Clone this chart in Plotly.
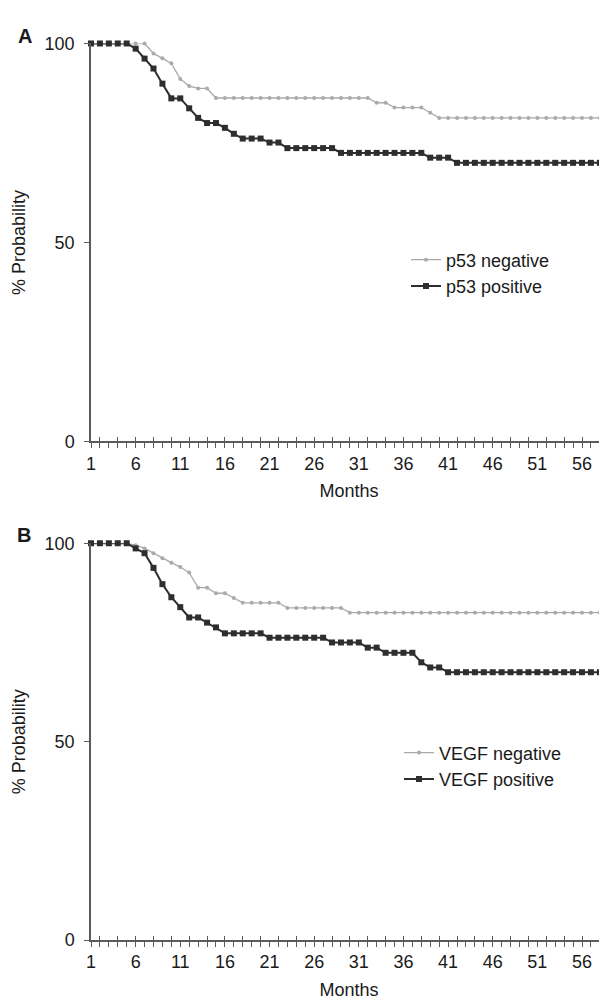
import plotly.graph_objects as go

# ---------------- data ----------------
months = list(range(1, 59))
x_tick_labels = [1, 6, 11, 16, 21, 26, 31, 36, 41, 46, 51, 56]
y_ticks = [0, 50, 100]

p53_negative = ([100] * 7 + [97.5, 96.3, 95.0, 91.1, 89.3, 88.7, 88.7]
                + [86.3] * 18 + [85.1, 85.1] + [83.9] * 4 + [82.6] + [81.3] * 19)
p53_positive = ([100] * 5 + [98.7, 96.2, 93.7, 89.9, 86.2, 86.2, 83.7, 81.3, 80.0, 80.0,
                             78.8, 77.3] + [76.1] * 3 + [75.1] * 2 + [73.7] * 6
                + [72.5] * 10 + [71.3] * 3 + [70.0] * 17)
vegf_negative = ([100] * 5 + [99.5, 98.7, 97.5, 96.2, 95.1, 94.0, 92.6, 88.8, 88.8,
                              87.4, 87.4, 86.2] + [85.0] * 5 + [83.7] * 7 + [82.5] * 29)
vegf_positive = ([100] * 5 + [98.7, 97.5, 93.8, 89.7, 86.4, 83.9, 81.3, 81.3, 80.0, 78.8]
                 + [77.3] * 5 + [76.2] * 7 + [75.0] * 4 + [73.7] * 2 + [72.4] * 4
                 + [70.0] + [68.7] * 2 + [67.5] * 18)

panels = [
    dict(letter="A", neg=p53_negative, pos=p53_positive,
         neg_name="p53 negative", pos_name="p53 positive"),
    dict(letter="B", neg=vegf_negative, pos=vegf_positive,
         neg_name="VEGF negative", pos_name="VEGF positive"),
]

# ---------------- style ----------------
# the page body has an 8px default margin, so figure pixel = screen pixel - 8
OFF = 8
W, H = 607 - OFF, 1005 - OFF
L = 91 - OFF
FONT = "Liberation Sans, Arial, sans-serif"
TXT = "#1a1a1a"
AX = "#5a5a5a"
DARK = "#2e2e2e"
LIGHT = "#aaaaaa"
FS = 18

def py(screen_pix):
    return 1 - (screen_pix - OFF) / H

def px(screen_pix):
    return (screen_pix - OFF - L) / (W - L)

domains = [[py(440), py(34)], [py(949), py(544)]]
legend_tops = [236, 739]
legend_lefts = [406, 399]
letter_xy = [(25, 26), (24, 536)]
xr = [1, 58.8]

fig = go.Figure()
layout = dict(
    width=W, height=H,
    margin=dict(l=L, r=0, t=0, b=0),
    paper_bgcolor="white", plot_bgcolor="white",
    font=dict(family=FONT, size=FS, color=TXT),
    showlegend=True,
    annotations=[],
)

tickvals = months
ticktext = [str(m) if m in x_tick_labels else "" for m in months]
even_months = [m for m in months if m % 2 == 0]

for i, p in enumerate(panels):
    n = i + 1
    xa = "x" if n == 1 else f"x{n}"
    ya = "y" if n == 1 else f"y{n}"
    xo = f"x{n + 2}"
    leg = "legend" if n == 1 else f"legend{n}"

    fig.add_trace(go.Scatter(
        x=months, y=p["neg"], name=p["neg_name"], mode="lines+markers",
        line=dict(color=LIGHT, width=1.3),
        marker=dict(symbol="circle", size=4, color=LIGHT),
        xaxis=xa, yaxis=ya, legend=leg, cliponaxis=False))
    fig.add_trace(go.Scatter(
        x=months, y=p["pos"], name=p["pos_name"], mode="lines+markers",
        line=dict(color=DARK, width=2),
        marker=dict(symbol="square", size=6, color=DARK),
        xaxis=xa, yaxis=ya, legend=leg, cliponaxis=False))
    # empty trace registering the overlay axis used for the crossing ticks
    fig.add_trace(go.Scatter(x=[], y=[], xaxis=xo, yaxis=ya, showlegend=False,
                             hoverinfo="skip"))

    xkey = "xaxis" if n == 1 else f"xaxis{n}"
    ykey = "yaxis" if n == 1 else f"yaxis{n}"
    layout[xkey] = dict(
        domain=[0, 1], anchor=ya, range=xr,
        tickmode="array", tickvals=tickvals, ticktext=ticktext,
        ticks="outside", ticklen=5, tickwidth=1.2, tickcolor=AX,
        showline=True, linecolor=AX, linewidth=1.5,
        showgrid=False, zeroline=False,
        tickfont=dict(size=FS, color=TXT),
        title=dict(text="Months", font=dict(size=FS, color=TXT), standoff=12),
    )
    layout[f"xaxis{n + 2}"] = dict(
        overlaying=xa, anchor=ya, range=xr,
        tickmode="array", tickvals=even_months,
        ticks="inside", ticklen=4, tickwidth=1.2, tickcolor=AX,
        showticklabels=False, showline=False, showgrid=False, zeroline=False,
    )
    layout[ykey] = dict(
        domain=domains[i], anchor=xa, range=[0, 100],
        tickmode="array", tickvals=y_ticks,
        ticks="outside", ticklen=5, tickwidth=1.2, tickcolor=AX,
        ticklabelstandoff=6,
        showline=True, linecolor=AX, linewidth=1.5,
        showgrid=False, zeroline=False,
        tickfont=dict(size=FS, color=TXT),
        title=dict(text="% Probability", font=dict(size=FS, color=TXT), standoff=14),
    )
    layout[leg] = dict(
        x=px(legend_lefts[i]), y=py(legend_tops[i]), xanchor="left", yanchor="top",
        bgcolor="rgba(0,0,0,0)", borderwidth=0,
        font=dict(size=FS, color=TXT), tracegroupgap=0,
    )
    lx, ly = letter_xy[i]
    layout["annotations"].append(dict(
        text=f"<b>{p['letter']}</b>", xref="paper", yref="paper",
        x=px(lx), y=py(ly), xanchor="center", yanchor="middle",
        showarrow=False, font=dict(size=20, color=TXT)))

fig.update_layout(**layout)
fig.write_html("out.html")
